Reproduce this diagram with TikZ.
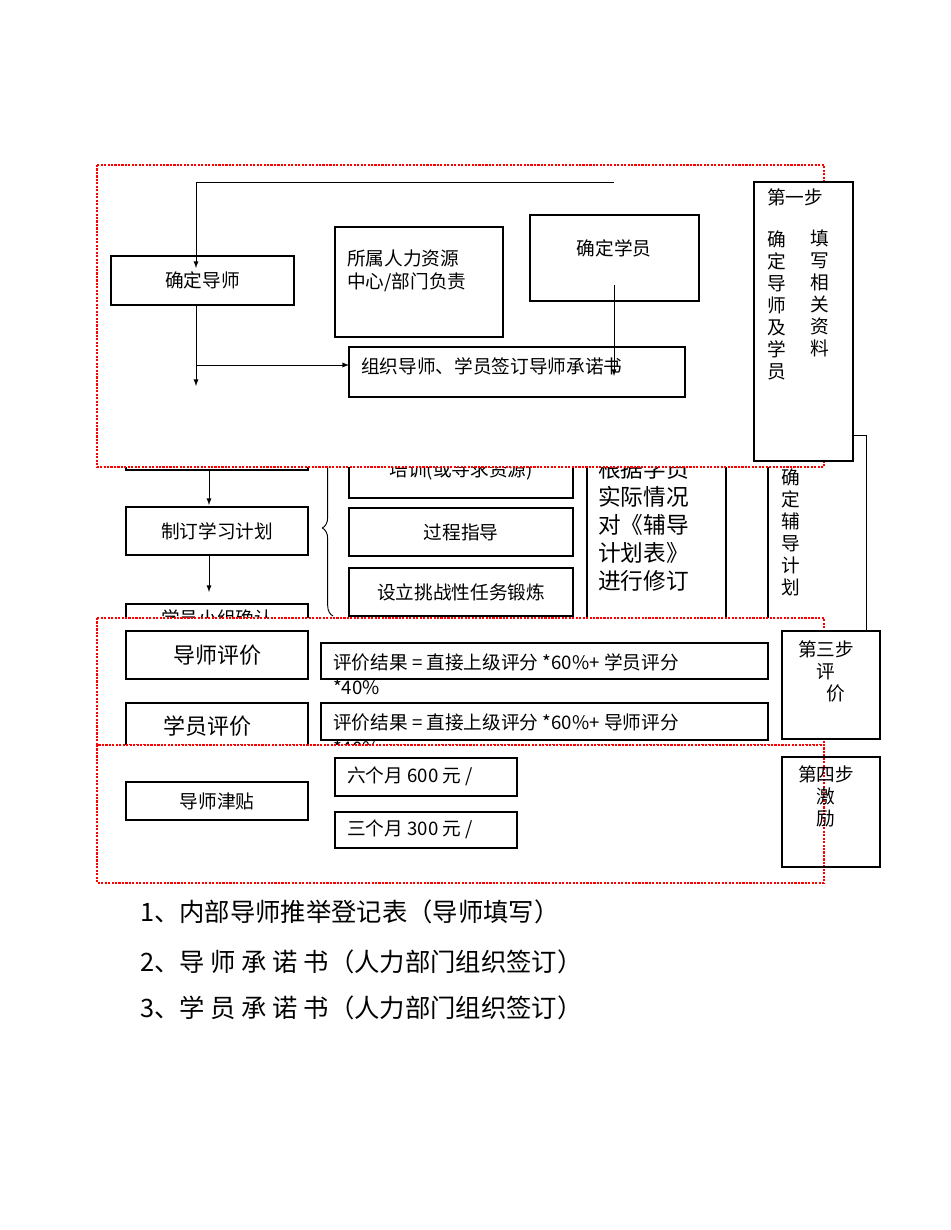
\documentclass[tikz,border=0pt]{standalone}
\usepackage{fontspec}
\setmainfont{Noto Sans CJK SC}
\usetikzlibrary{decorations.pathreplacing}
\begin{document}
\begin{tikzpicture}[x=0.75pt,y=-0.75pt,
 bx/.style={draw,line width=0.8pt},
 ln/.style={line width=0.7pt},
 ar/.style={ln,-latex},
 red/.style={draw=red,line width=1.6pt,densely dotted,fill=white},
 t/.style={font=\fontsize{14}{17}\selectfont,inner sep=0pt},
 tb/.style={font=\fontsize{16.5}{19}\selectfont,inner sep=0pt},
 vt/.style={font=\fontsize{14}{16.5}\selectfont,inner sep=0pt,align=center,anchor=north}]
\useasboundingbox (0,0) rectangle (950,1230);
% middle section
\draw[bx] (126,440) rectangle (308,470);
\draw[bx] (126,507) rectangle (308,555) node[t,midway] (plan) {制订学习计划};
\draw[bx] (126,604) rectangle (308,650);
\node[t,anchor=north] (grp) at (217,609) {学员小组确认};
\coordinate (a1) at (209,470); \coordinate (a2) at (209,505);
\draw[ar] (a1) -- (a2);
\coordinate (a3) at (209,555); \coordinate (a4) at (209,592);
\draw[ar] (a3) -- (a4);
\coordinate (b1) at (333,616); \coordinate (b2) at (333,440);
\draw[ln,decorate,decoration={brace,amplitude=8pt}] (b1) -- (b2);
\draw[bx] (349,450) rectangle (573,498);
\node[t] (train) at (461,470) {培训(或寻求资源)};
\draw[bx] (349,508) rectangle (573,556) node[t,midway] (guide) {过程指导};
\draw[bx] (349,568) rectangle (573,616) node[t,midway] (task) {设立挑战性任务锻炼};
\draw[bx] (587,440) rectangle (726,640);
\node[font=\fontsize{17}{21}\selectfont,inner sep=0pt,anchor=north west,align=left] (rev) at (598,458)
 {根\hfill 据\hfill 学\hfill 员\\实\hfill 际\hfill 情\hfill 况\\对\hfill《\hfill 辅\hfill 导\\计\hfill 划\hfill 表\hfill》\\进行修订};
\coordinate (v1) at (768,440); \coordinate (v2) at (768,640);
\draw[bx] (v1) -- (v2);
\node[vt] (plan2) at (791,468) {确\\定\\辅\\导\\计\\划};
\coordinate (c1) at (853,435); \coordinate (c2) at (866,435); \coordinate (c3) at (866,631);
\draw[ln] (c1) -- (c2) -- (c3);
% top section
\draw[red] (97,165) rectangle (824,467);
\draw[bx] (111,256) rectangle (294,305) node[t,midway] (ds) {确定导师};
\draw[bx] (335,227) rectangle (503,337);
\node[t,align=left,anchor=north west] (hr) at (347,250) {所属人力资源\\中心/部门负责};
\draw[bx] (530,215) rectangle (699,301);
\node[t] (st) at (614,248) {确定学员};
\draw[bx] (349,347) rectangle (685,397);
\node[t,anchor=west] (sign) at (361,366) {组织导师、学员签订导师承诺书};
\coordinate (p1) at (614,182); \coordinate (p2) at (196,182); \coordinate (p3) at (196,268);
\draw[ar] (p1) -- (p2) -- (p3);
\coordinate (q1) at (196,305); \coordinate (q2) at (196,386); \coordinate (q3) at (196,365); \coordinate (q4) at (349,365);
\draw[ar] (q1) -- (q2);
\draw[ar] (q3) -- (q4);
\coordinate (r1) at (614,285); \coordinate (r2) at (614,376);
\draw[ar] (r1) -- (r2);
\draw[bx,fill=white] (754,182) rectangle (853,461);
\node[t,anchor=north west] (s1) at (767,188) {第一步};
\node[vt] (s1a) at (777,230) {确\\定\\导\\师\\及\\学\\员};
\node[vt] (s1b) at (820,230) {填\\写\\相\\关\\资\\料};
% third section
\draw[red] (97,618) rectangle (824,745);
\draw[bx] (126,631) rectangle (308,679) node[tb,midway] (te) {导师评价};
\draw[bx] (126,703) rectangle (308,755) node[tb,pos=0.45] (se) {学员评价};
\draw[bx] (321,643) rectangle (768,679);
\node[t,anchor=west] (f1) at (333,662) {评价结果 = 直接上级评分 *60\%+ 学员评分};
\node[t,anchor=west] (f1b) at (333,687) {*40\%};
\draw[bx] (321,703) rectangle (768,740);
\node[t,anchor=west] (f2) at (333,722) {评价结果 = 直接上级评分 *60\%+ 导师评分};
\node[t,anchor=west] (f2b) at (333,748) {*40\%};
\draw[bx,fill=white] (782,631) rectangle (880,739);
\node[vt] (s3) at (826,640) {第三步\\评\hspace{1.5em}\\\hspace{1em}价};
% fourth section
\draw[red] (97,745) rectangle (824,883);
\draw[bx] (126,782) rectangle (308,820) node[t,midway] (al) {导师津贴};
\draw[bx] (335,758) rectangle (517,796);
\node[t,anchor=west] (m6) at (347,776) {六个月 600 元 /};
\draw[bx] (335,812) rectangle (517,848);
\node[t,anchor=west] (m3) at (347,829) {三个月 300 元 /};
\draw[bx] (782,757) rectangle (880,867);
\node[vt] (s4) at (826,765) {第四步\\激\\励};
% list
\node[font=\fontsize{19}{22}\selectfont,anchor=west,inner sep=0pt] (l1) at (140,912) {1、内部导师推举登记表（导师填写）};
\node[font=\fontsize{19}{22}\selectfont,anchor=west,inner sep=0pt] (l2) at (140,962) {2、导\ 师\ 承\ 诺\ 书（人力部门组织签订）};
\node[font=\fontsize{19}{22}\selectfont,anchor=west,inner sep=0pt] (l3) at (140,1008) {3、学\ 员\ 承\ 诺\ 书（人力部门组织签订）};
\end{tikzpicture}
\end{document}
